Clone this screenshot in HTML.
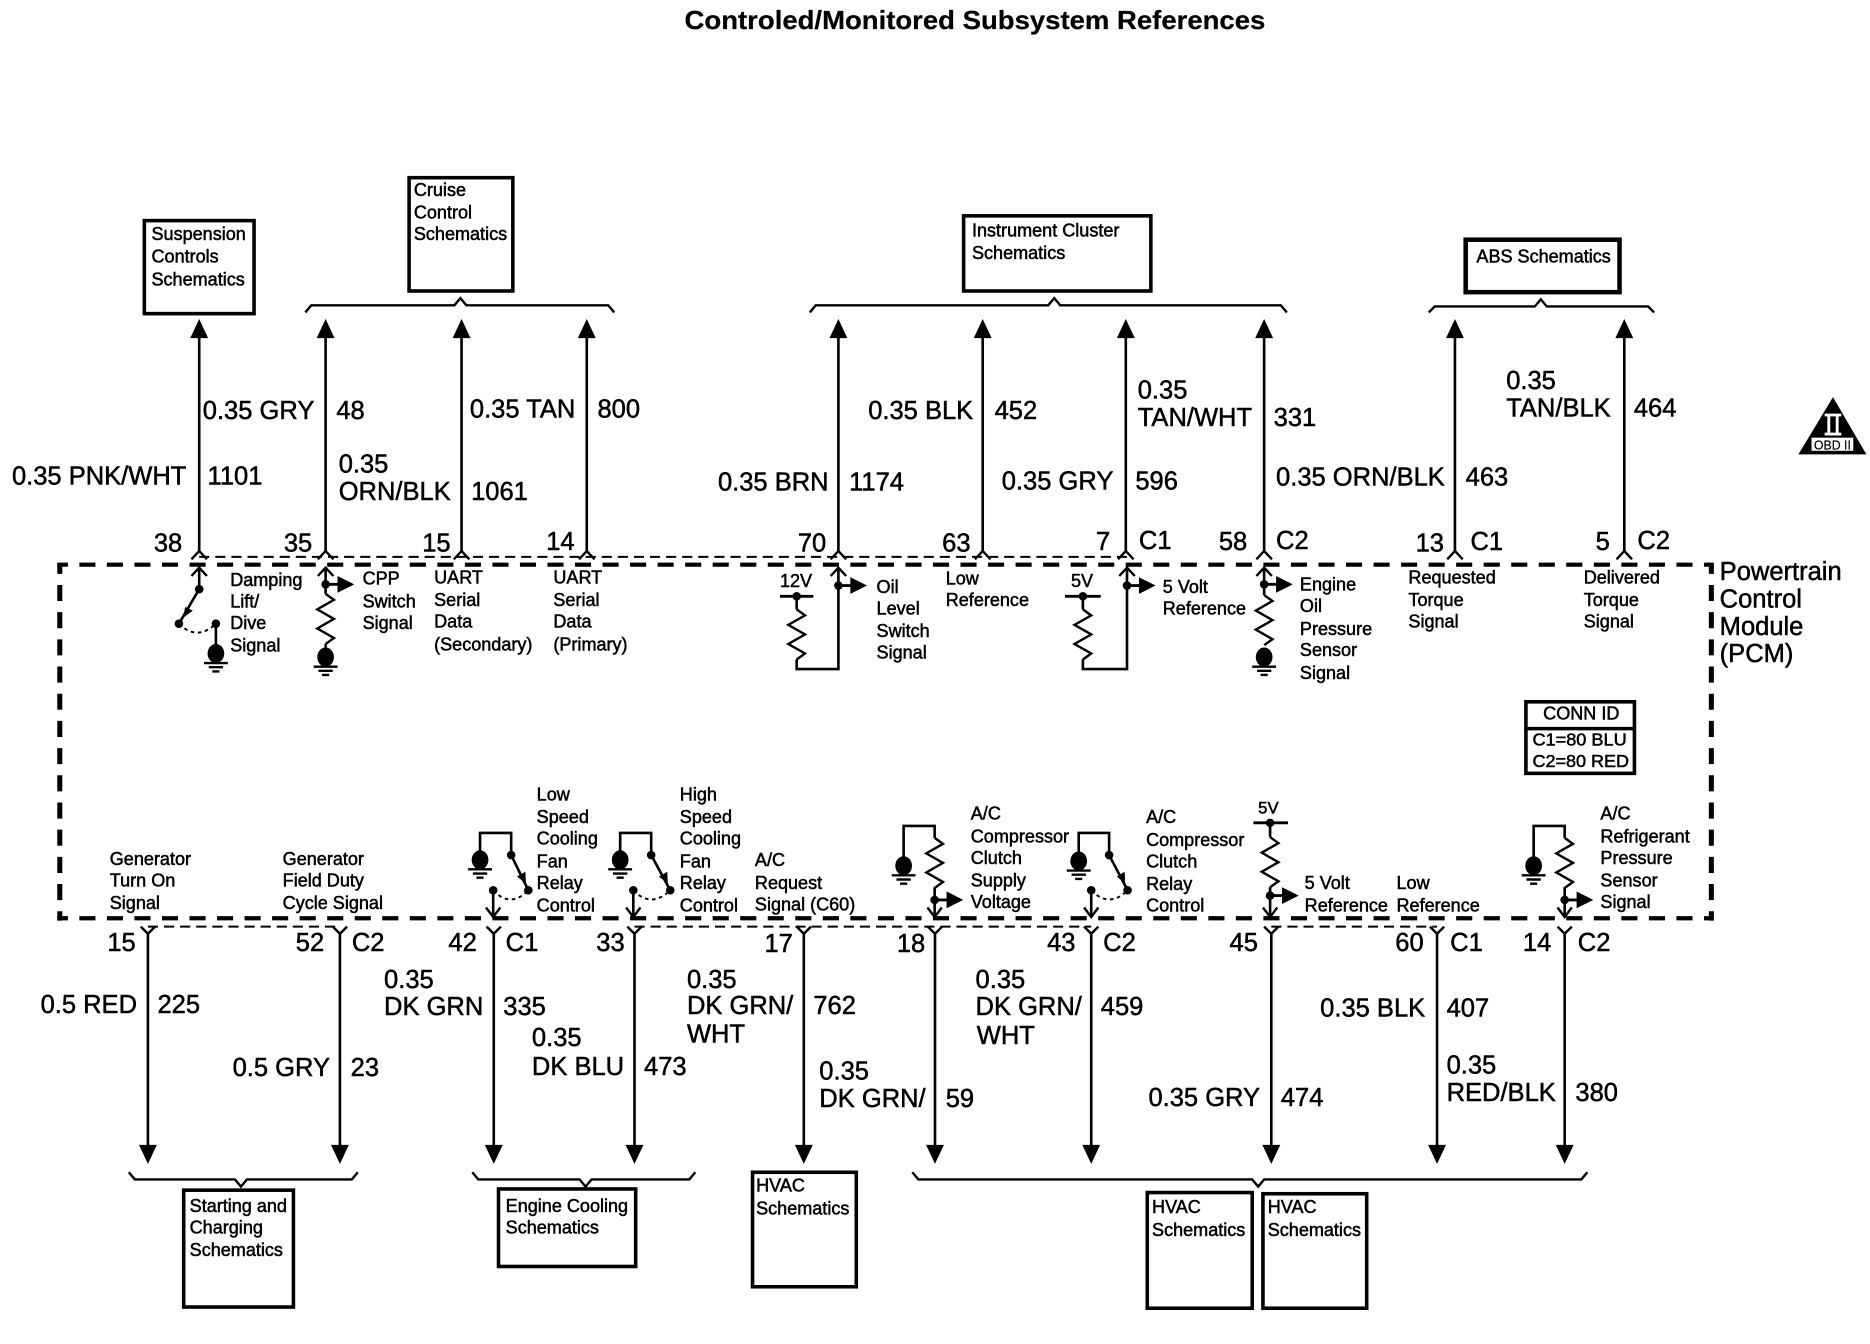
<!DOCTYPE html>
<html><head><meta charset="utf-8"><title>Controled/Monitored Subsystem References</title>
<style>
html,body{margin:0;padding:0;background:#fff}
svg{display:block}
text{font-family:"Liberation Sans",Arial,sans-serif;fill:#000;stroke:#000;stroke-width:.42;transform:translateY(-.7px)}
.s{font-size:15.15px}
.l{font-size:21.4px}
.t{font-size:21.6px;font-weight:bold;stroke-width:.2}
.w{fill:none;stroke:#000;stroke-width:2.2}
.b{fill:#fff;stroke:#000;stroke-width:3}
</style></head><body>
<svg xmlns="http://www.w3.org/2000/svg" width="1870" height="1344" viewBox="0 0 1568 1127">
<defs>
<polygon id="up" points="0,0 -7.5,16 7.5,16" fill="#000"/>
<polygon id="dn" points="0,0 -7.5,-16 7.5,-16" fill="#000"/>
<path id="ch" d="M-6.5 7 L0 0 L6.5 7" fill="none" stroke="#000" stroke-width="2"/>
<path id="yy" d="M-6 -6 L0 0 L6 -6" fill="none" stroke="#000" stroke-width="2"/>
<path id="res" d="M0 0 L7 5 L-7 13 L7 21 L-7 29 L7 37 L0 42" fill="none" stroke="#000" stroke-width="2"/>
<circle id="n" r="3.6" fill="#000"/>
<g id="gnd"><ellipse cx="0" cy="0" rx="7" ry="8" fill="#000"/><path d="M-10 8H10M-6 11.5H6M-3 15H3" stroke="#000" stroke-width="2" fill="none"/></g>
<g id="ar"><path d="M0 0H14" stroke="#000" stroke-width="2.4"/><polygon points="10,-7 10,7 24,0" fill="#000"/></g>
</defs>

<text class="t" x="574" y="25" textLength="487" lengthAdjust="spacingAndGlyphs">Controled/Monitored Subsystem References</text>

<!-- PCM dashed box -->
<path d="M48 473.5H1437" fill="none" stroke="#000" stroke-width="3.5" stroke-dasharray="13.5 9.59" stroke-dashoffset="4.59"/>
<path d="M48 770H1437" fill="none" stroke="#000" stroke-width="3.5" stroke-dasharray="13.5 9.59" stroke-dashoffset="4.59"/>
<path d="M50.1 472V772" fill="none" stroke="#000" stroke-width="4.2" stroke-dasharray="13.5 9.3" stroke-dashoffset="4.3"/>
<path d="M1435 472V772" fill="none" stroke="#000" stroke-width="4.2" stroke-dasharray="13.5 9.3" stroke-dashoffset="4.3"/>

<!-- thin dashed connector lines -->
<g fill="none" stroke="#000" stroke-width="1.7" stroke-dasharray="8.5 5">
<path d="M167 467H945"/>
<path d="M124 777H285"/>
<path d="M532 777H915"/>
<path d="M1066 777H1205"/>
</g>

<!-- boxes -->
<rect class="b" x="121" y="185" width="92" height="78"/>
<rect class="b" x="343" y="149" width="87" height="95"/>
<rect class="b" x="808" y="181" width="157" height="63"/>
<rect class="b" x="1229" y="201" width="129" height="44" style="stroke-width:3.8"/>
<rect class="b" x="154" y="998" width="92" height="98"/>
<rect class="b" x="418" y="997" width="115" height="65"/>
<rect class="b" x="631" y="983" width="87" height="96"/>
<rect class="b" x="962" y="1000" width="88" height="97"/>
<rect class="b" x="1059" y="1001" width="87" height="96"/>

<!-- braces -->
<g fill="none" stroke="#000" stroke-width="2">
<path d="M256 262L261 256H381L386 250L391 256H510L515 262"/>
<path d="M679 262L684 256H879L884 250L889 256H1074L1079 262"/>
<path d="M1198 262L1203 257H1287L1292 251L1297 257H1382L1387 262"/>
<path d="M108 983L113 989H197L202 995L207 989H295L300 983"/>
<path d="M396 983L401 989H486L491 995L496 989H578L583 983"/>
<path d="M765 983L770 989H1050L1055 995L1060 989H1326L1331 983"/>
</g>

<!-- top wires -->
<g class="w">
<path d="M167 278V462M273 278V462M387 278V462M492 278V462M703 278V462M824 278V462M944 278V462M1060 278V462M1220 278V462M1362 278V462"/>
</g>
<use href="#up" x="167" y="267.5"/><use href="#up" x="273" y="267.5"/><use href="#up" x="387" y="267.5"/><use href="#up" x="492" y="267.5"/><use href="#up" x="703" y="267.5"/><use href="#up" x="824" y="267.5"/><use href="#up" x="944" y="267.5"/><use href="#up" x="1060" y="267.5"/><use href="#up" x="1220" y="267.5"/><use href="#up" x="1362" y="267.5"/>
<use href="#ch" x="167" y="462"/><use href="#ch" x="273" y="462"/><use href="#ch" x="387" y="462"/><use href="#ch" x="492" y="462"/><use href="#ch" x="703" y="462"/><use href="#ch" x="824" y="462"/><use href="#ch" x="944" y="462"/><use href="#ch" x="1060" y="462"/><use href="#ch" x="1220" y="462"/><use href="#ch" x="1362" y="462"/>

<!-- bottom wires -->
<g class="w">
<path d="M124 783V965M285 783V965M414 783V965M532 783V965M674 783V965M784 783V965M915 783V965M1066 783V965M1205 783V965M1312 783V965"/>
</g>
<use href="#dn" x="124" y="976"/><use href="#dn" x="285" y="976"/><use href="#dn" x="414" y="976"/><use href="#dn" x="532" y="976"/><use href="#dn" x="674" y="976"/><use href="#dn" x="784" y="976"/><use href="#dn" x="915" y="976"/><use href="#dn" x="1066" y="976"/><use href="#dn" x="1205" y="976"/><use href="#dn" x="1312" y="976"/>
<use href="#yy" x="124" y="783"/><use href="#yy" x="285" y="783"/><use href="#yy" x="414" y="783"/><use href="#yy" x="532" y="783"/><use href="#yy" x="674" y="783"/><use href="#yy" x="784" y="783"/><use href="#yy" x="915" y="783"/><use href="#yy" x="1066" y="783"/><use href="#yy" x="1205" y="783"/><use href="#yy" x="1312" y="783"/>

<!-- top inner symbols -->
<!-- 38 -->
<g class="w"><path d="M167 476V494"/><path d="M167 494L150 523"/><path d="M181 523V545"/><path d="M150 523Q165 538 181 523" stroke-dasharray="3 3" stroke-width="1.6"/></g>
<use href="#ch" x="167" y="476"/><use href="#n" x="167" y="494"/><use href="#n" x="150" y="523"/><use href="#n" x="181" y="523"/>
<polygon points="153.6,518 155.2,509 161.6,512" fill="#000"/>
<use href="#gnd" x="181" y="548"/>
<!-- 35 -->
<g class="w"><path d="M273 476V498"/></g><use href="#ch" x="273" y="476"/><use href="#n" x="273" y="490"/><use href="#ar" x="273" y="490"/><use href="#res" x="273" y="498"/>
<path d="M273 540V546" stroke="#000" stroke-width="2"/><use href="#gnd" x="273" y="551"/>
<!-- 70 -->
<g class="w"><path d="M703 476V561H668V553M668 500V511"/></g><use href="#ch" x="703" y="476"/><use href="#n" x="703" y="491"/><use href="#ar" x="703" y="491"/>
<use href="#res" x="668" y="511"/><path d="M654 500H682" stroke="#000" stroke-width="2.4"/><use href="#n" x="668" y="500"/>
<!-- 7 -->
<g class="w"><path d="M945 476V561H908V553M908 500V511"/></g><use href="#ch" x="945" y="476"/><use href="#n" x="945" y="491"/><use href="#ar" x="945" y="491"/>
<use href="#res" x="908" y="511"/><path d="M893 500H923" stroke="#000" stroke-width="2.4"/><use href="#n" x="908" y="500"/>
<!-- 58 -->
<g class="w"><path d="M1060 476V499"/></g><use href="#ch" x="1060" y="476"/><use href="#n" x="1060" y="490"/><use href="#ar" x="1060" y="490"/><use href="#res" x="1060" y="499"/>
<use href="#gnd" x="1060" y="551"/>

<!-- lower inner symbols -->
<!-- 42 -->
<g class="w"><path d="M402.5 716V698.5H428.6V717L443 746.5"/><path d="M413.5 746.5V768"/><path d="M413.5 746.5Q428 762 443 746.5" stroke-dasharray="3 3" stroke-width="1.6"/></g>
<use href="#gnd" x="402.5" y="721"/><use href="#n" x="428.6" y="717"/><use href="#n" x="443" y="746.5"/><use href="#n" x="413.5" y="746.5"/><polygon points="441,741 433.5,735 440.5,731" fill="#000"/>
<path d="M407.5 761L413.5 769L419.5 761" fill="none" stroke="#000" stroke-width="2"/>
<!-- 33 -->
<g class="w"><path d="M520 716V698.5H546V717L562 746.5"/><path d="M531 746.5V768"/><path d="M531 746.5Q546 762 562 746.5" stroke-dasharray="3 3" stroke-width="1.6"/></g>
<use href="#gnd" x="520" y="721"/><use href="#n" x="546" y="717"/><use href="#n" x="562" y="746.5"/><use href="#n" x="531" y="746.5"/><polygon points="560,741 552.5,735 559.5,731" fill="#000"/>
<path d="M525 761L531 769L537 761" fill="none" stroke="#000" stroke-width="2"/>
<!-- 18 -->
<g class="w"><path d="M757.7 722V692.6H783.7V702.6M783.7 744V768"/></g><use href="#res" x="783.7" y="702.6"/><use href="#gnd" x="757.7" y="726"/><use href="#n" x="783.7" y="754.6"/><use href="#ar" x="783.7" y="754.6"/>
<path d="M777.7 761L783.7 769L789.7 761" fill="none" stroke="#000" stroke-width="2"/>
<!-- 43 -->
<g class="w"><path d="M904.5 716V698.5H930V717L945.5 746.5"/><path d="M915 746.5V768"/><path d="M915 746.5Q930 762 945.5 746.5" stroke-dasharray="3 3" stroke-width="1.6"/></g>
<use href="#gnd" x="904.5" y="722"/><use href="#n" x="930" y="717"/><use href="#n" x="945.5" y="746.5"/><use href="#n" x="915" y="746.5"/><polygon points="943.5,741 936.5,735 943,731" fill="#000"/>
<path d="M909 761L915 769L921 761" fill="none" stroke="#000" stroke-width="2"/>
<!-- 45 -->
<g class="w"><path d="M1065 690V702M1065 744V768"/></g><use href="#res" x="1065" y="702"/><path d="M1051 690H1080" stroke="#000" stroke-width="2.4"/><use href="#n" x="1065" y="690"/><use href="#n" x="1065" y="751"/><use href="#ar" x="1065" y="751"/>
<path d="M1059 761L1065 769L1071 761" fill="none" stroke="#000" stroke-width="2"/>
<!-- 14 -->
<g class="w"><path d="M1286 722V692.6H1312V702.6M1312 744V768"/></g><use href="#res" x="1312" y="702.6"/><use href="#gnd" x="1286" y="726"/><use href="#n" x="1312" y="754.6"/><use href="#ar" x="1312" y="754.6"/>
<path d="M1306 761L1312 769L1318 761" fill="none" stroke="#000" stroke-width="2"/>

<!-- CONN ID -->
<rect class="b" x="1279.5" y="588.5" width="91" height="60"/>
<path d="M1279 611H1371" stroke="#000" stroke-width="3"/>
<text class="s" x="1294" y="604">CONN ID</text>
<text x="1285" y="626" font-size="14.4" textLength="79" lengthAdjust="spacingAndGlyphs">C1=80 BLU</text>
<text x="1285" y="644" font-size="14.4" textLength="81" lengthAdjust="spacingAndGlyphs">C2=80 RED</text>

<!-- OBD -->
<polygon points="1537,333 1565,381 1508,381" fill="#000"/>
<path d="M1530 348H1544M1530 364H1544M1533.5 348V364M1540.5 348V364" stroke="#fff" stroke-width="2.4" fill="none"/>
<rect x="1519" y="367" width="35" height="11" fill="#fff"/>
<text x="1521" y="377.5" font-size="10.5" textLength="31" lengthAdjust="spacingAndGlyphs" style="stroke-width:.15">OBD II</text>

<!-- box text -->
<text class="s" x="127" y="202">Suspension</text><text class="s" x="127" y="221">Controls</text><text class="s" x="127" y="240">Schematics</text>
<text class="s" x="347" y="165">Cruise</text><text class="s" x="347" y="184">Control</text><text class="s" x="347" y="202">Schematics</text>
<text class="s" x="815" y="199">Instrument Cluster</text><text class="s" x="815" y="218">Schematics</text>
<text class="s" x="1238" y="221">ABS Schematics</text>
<text class="s" x="159" y="1017">Starting and</text><text class="s" x="159" y="1035">Charging</text><text class="s" x="159" y="1054">Schematics</text>
<text class="s" x="424" y="1017">Engine Cooling</text><text class="s" x="424" y="1035">Schematics</text>
<text class="s" x="634" y="1000">HVAC</text><text class="s" x="634" y="1019">Schematics</text>
<text class="s" x="966" y="1018">HVAC</text><text class="s" x="966" y="1037">Schematics</text>
<text class="s" x="1063" y="1018">HVAC</text><text class="s" x="1063" y="1037">Schematics</text>

<!-- upper labels -->
<text class="s" x="193" y="492">Damping</text><text class="s" x="193" y="510">Lift/</text><text class="s" x="193" y="528">Dive</text><text class="s" x="193" y="547">Signal</text>
<text class="s" x="304" y="491">CPP</text><text class="s" x="304" y="510">Switch</text><text class="s" x="304" y="528">Signal</text>
<text class="s" x="364" y="490">UART</text><text class="s" x="364" y="509">Serial</text><text class="s" x="364" y="527">Data</text><text class="s" x="364" y="546">(Secondary)</text>
<text class="s" x="464" y="490">UART</text><text class="s" x="464" y="509">Serial</text><text class="s" x="464" y="527">Data</text><text class="s" x="464" y="546">(Primary)</text>
<text class="s" x="735" y="498">Oil</text><text class="s" x="735" y="516">Level</text><text class="s" x="735" y="535">Switch</text><text class="s" x="735" y="553">Signal</text>
<text class="s" x="793" y="491">Low</text><text class="s" x="793" y="509">Reference</text>
<text class="s" x="975" y="498">5 Volt</text><text class="s" x="975" y="516">Reference</text>
<text class="s" x="1090" y="496">Engine</text><text class="s" x="1090" y="514">Oil</text><text class="s" x="1090" y="533">Pressure</text><text class="s" x="1090" y="551">Sensor</text><text class="s" x="1090" y="570">Signal</text>
<text class="s" x="1181" y="490">Requested</text><text class="s" x="1181" y="509">Torque</text><text class="s" x="1181" y="527">Signal</text>
<text class="s" x="1328" y="490">Delivered</text><text class="s" x="1328" y="509">Torque</text><text class="s" x="1328" y="527">Signal</text>
<text class="s" x="654" y="493">12V</text><text class="s" x="898" y="493">5V</text><text class="s" x="1055" y="683" style="font-size:14px">5V</text>

<!-- lower labels -->
<text class="s" x="92" y="726">Generator</text><text class="s" x="92" y="744">Turn On</text><text class="s" x="92" y="763">Signal</text>
<text class="s" x="237" y="726">Generator</text><text class="s" x="237" y="744">Field Duty</text><text class="s" x="237" y="763">Cycle Signal</text>
<text class="s" x="450" y="672">Low</text><text class="s" x="450" y="691">Speed</text><text class="s" x="450" y="709">Cooling</text><text class="s" x="450" y="728">Fan</text><text class="s" x="450" y="746">Relay</text><text class="s" x="450" y="765">Control</text>
<text class="s" x="570" y="672">High</text><text class="s" x="570" y="691">Speed</text><text class="s" x="570" y="709">Cooling</text><text class="s" x="570" y="728">Fan</text><text class="s" x="570" y="746">Relay</text><text class="s" x="570" y="765">Control</text>
<text class="s" x="633" y="727">A/C</text><text class="s" x="633" y="746">Request</text><text class="s" x="633" y="764">Signal (C60)</text>
<text class="s" x="814" y="688">A/C</text><text class="s" x="814" y="707">Compressor</text><text class="s" x="814" y="725">Clutch</text><text class="s" x="814" y="744">Supply</text><text class="s" x="814" y="762">Voltage</text>
<text class="s" x="961" y="691">A/C</text><text class="s" x="961" y="710">Compressor</text><text class="s" x="961" y="728">Clutch</text><text class="s" x="961" y="747">Relay</text><text class="s" x="961" y="765">Control</text>
<text class="s" x="1094" y="746">5 Volt</text><text class="s" x="1094" y="765">Reference</text>
<text class="s" x="1171" y="746">Low</text><text class="s" x="1171" y="765">Reference</text>
<text class="s" x="1342" y="688">A/C</text><text class="s" x="1342" y="707">Refrigerant</text><text class="s" x="1342" y="725">Pressure</text><text class="s" x="1342" y="744">Sensor</text><text class="s" x="1342" y="762">Signal</text>

<!-- PCM label -->
<text class="l" x="1442" y="487">Powertrain</text><text class="l" x="1442" y="510">Control</text><text class="l" x="1442" y="533">Module</text><text class="l" x="1442" y="556">(PCM)</text>

<!-- upper wire labels -->
<text class="l" x="10" y="407">0.35 PNK/WHT</text><text class="l" x="174" y="407">1101</text>
<text class="l" x="170" y="352">0.35 GRY</text><text class="l" x="282" y="352">48</text>
<text class="l" x="284" y="397">0.35</text><text class="l" x="284" y="420">ORN/BLK</text><text class="l" x="395" y="420">1061</text>
<text class="l" x="394" y="351">0.35 TAN</text><text class="l" x="501" y="351">800</text>
<text class="l" x="602" y="412">0.35 BRN</text><text class="l" x="712" y="412">1174</text>
<text class="l" x="728" y="352">0.35 BLK</text><text class="l" x="834" y="352">452</text>
<text class="l" x="954" y="335">0.35</text><text class="l" x="954" y="358">TAN/WHT</text><text class="l" x="1068" y="358">331</text>
<text class="l" x="840" y="411">0.35 GRY</text><text class="l" x="952" y="411">596</text>
<text class="l" x="1070" y="408">0.35 ORN/BLK</text><text class="l" x="1229" y="408">463</text>
<text class="l" x="1263" y="327">0.35</text><text class="l" x="1263" y="350">TAN/BLK</text><text class="l" x="1370" y="350">464</text>

<!-- upper pins -->
<text class="l" x="129" y="463">38</text><text class="l" x="238" y="463">35</text><text class="l" x="354" y="463">15</text><text class="l" x="458" y="462">14</text>
<text class="l" x="669" y="463">70</text><text class="l" x="790" y="463">63</text><text class="l" x="919" y="462">7</text><text class="l" x="955" y="461">C1</text>
<text class="l" x="1022" y="462">58</text><text class="l" x="1070" y="461">C2</text><text class="l" x="1187" y="463">13</text><text class="l" x="1233" y="462">C1</text>
<text class="l" x="1338" y="462">5</text><text class="l" x="1373" y="461">C2</text>

<!-- lower pins -->
<text class="l" x="90" y="798">15</text><text class="l" x="248" y="798">52</text><text class="l" x="295" y="798">C2</text>
<text class="l" x="376" y="798">42</text><text class="l" x="424" y="798">C1</text><text class="l" x="500" y="798">33</text>
<text class="l" x="641" y="799">17</text><text class="l" x="752" y="799">18</text><text class="l" x="878" y="798">43</text><text class="l" x="925" y="798">C2</text>
<text class="l" x="1031" y="798">45</text><text class="l" x="1170" y="798">60</text><text class="l" x="1216" y="798">C1</text>
<text class="l" x="1277" y="798">14</text><text class="l" x="1323" y="798">C2</text>

<!-- lower wire labels -->
<text class="l" x="34" y="850">0.5 RED</text><text class="l" x="132" y="850">225</text>
<text class="l" x="322" y="829">0.35</text><text class="l" x="322" y="852">DK GRN</text><text class="l" x="422" y="852">335</text>
<text class="l" x="195" y="903">0.5 GRY</text><text class="l" x="294" y="903">23</text>
<text class="l" x="446" y="878">0.35</text><text class="l" x="446" y="902">DK BLU</text><text class="l" x="540" y="902">473</text>
<text class="l" x="576" y="829">0.35</text><text class="l" x="576" y="851">DK GRN/</text><text class="l" x="576" y="875">WHT</text><text class="l" x="682" y="851">762</text>
<text class="l" x="687" y="906">0.35</text><text class="l" x="687" y="929">DK GRN/</text><text class="l" x="793" y="929">59</text>
<text class="l" x="818" y="829">0.35</text><text class="l" x="818" y="852">DK GRN/</text><text class="l" x="819" y="876">WHT</text><text class="l" x="923" y="852">459</text>
<text class="l" x="963" y="928">0.35 GRY</text><text class="l" x="1074" y="928">474</text>
<text class="l" x="1107" y="853">0.35 BLK</text><text class="l" x="1213" y="853">407</text>
<text class="l" x="1213" y="901">0.35</text><text class="l" x="1213" y="924">RED/BLK</text><text class="l" x="1321" y="924">380</text>
</svg>
</body></html>
